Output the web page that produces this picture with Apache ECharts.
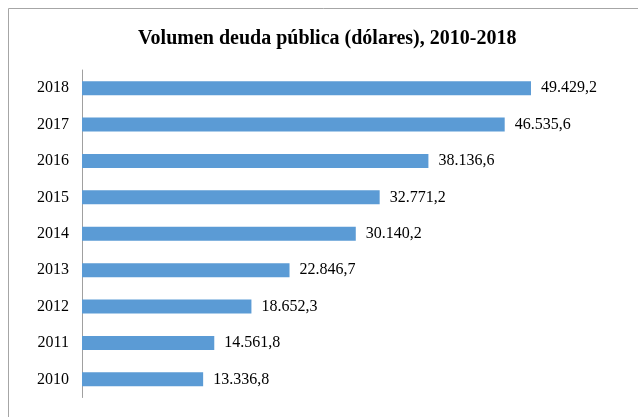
<!DOCTYPE html>
<html>
<head>
<meta charset="utf-8">
<script src="https://cdn.jsdelivr.net/npm/echarts@6/dist/echarts.min.js"></script>
<style>
    html, body { margin: 0; padding: 0; background: #fff; }
    #chart { width: 638px; height: 417px; }
</style>
</head>
<body>
<div id="chart"></div>
<script>
    const years = ['2010', '2011', '2012', '2013', '2014', '2015', '2016', '2017', '2018'];
    const deuda = [13336.8, 14561.8, 18652.3, 22846.7, 30140.2, 32771.2, 38136.6, 46535.6, 49429.2];

    // 49429.2 -> "49.429,2"
    function fmt(v) {
        const parts = v.toFixed(1).split('.');
        return parts[0].replace(/\B(?=(\d{3})+(?!\d))/g, '.') + ',' + parts[1];
    }

    const serif = '"Liberation Serif", "Times New Roman", serif';
    const myChart = echarts.init(document.getElementById('chart'));
    myChart.setOption({
        animation: false,
        graphic: [{
            type: 'rect',
            shape: { x: 8.5, y: 8.5, width: 640, height: 420 },
            style: { fill: 'none', stroke: '#a6a6a6', lineWidth: 1 }
        }],
        title: {
            text: 'Volumen deuda pública (dólares), 2010-2018',
            left: 133,
            top: 24,
            textStyle: {
                fontFamily: serif,
                fontWeight: 'bold',
                fontSize: 20,
                color: '#000'
            }
        },
        grid: {
            left: 82,
            right: 11,
            top: 70,
            bottom: 19.5,
            containLabel: false
        },
        xAxis: {
            type: 'value',
            min: 0,
            max: 60000,
            show: false
        },
        yAxis: {
            type: 'category',
            data: years,
            axisLine: { show: true, lineStyle: { color: '#a0a0a0', width: 1 } },
            axisTick: { show: false },
            axisLabel: {
                margin: 13,
                fontFamily: serif,
                fontSize: 16,
                color: '#000'
            }
        },
        series: [{
            type: 'bar',
            data: deuda,
            barWidth: 14,
            itemStyle: { color: '#5B9BD5' },
            label: {
                show: true,
                position: 'right',
                distance: 10,
                fontFamily: serif,
                fontSize: 16,
                color: '#000',
                formatter: p => fmt(p.value)
            }
        }]
    });
</script>
</body>
</html>
